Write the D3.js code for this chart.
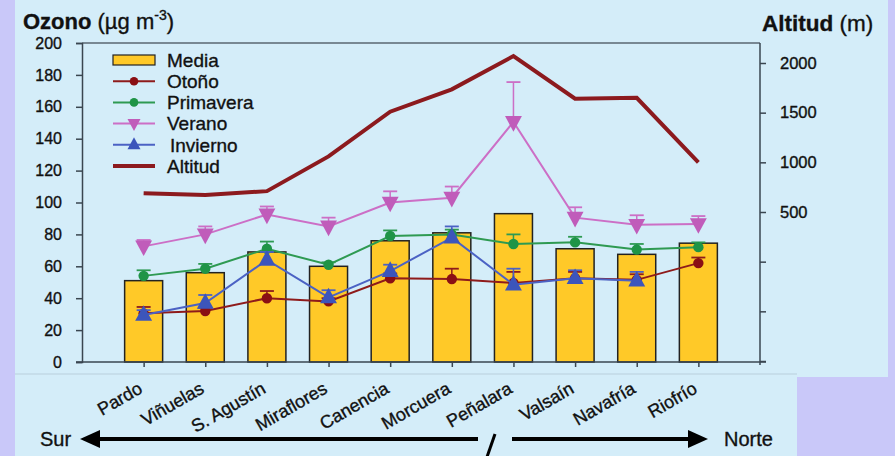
<!DOCTYPE html>
<html><head><meta charset="utf-8">
<script src="https://cdn.jsdelivr.net/npm/d3@7"></script>
<style>
html,body{margin:0;padding:0;background:#c9c8f9;}
svg{display:block;font-family:"Liberation Sans",Arial,sans-serif;}
text{stroke:#111;stroke-width:0.35px;}
</style></head>
<body>
<svg id="c" width="895" height="456"></svg>
<script>
const categories = ["Pardo","Viñuelas","S. Agustín","Miraflores","Canencia","Morcuera","Peñalara","Valsaín","Navafría","Riofrío"];
const media      = [51, 56, 69, 60, 76, 81, 93, 71, 67.5, 74.5];
const otono      = [30.5, 32, 40, 38, 52.5, 52, 49.5, 52.5, 51.5, 62];
const otonoErr   = [4, 2, 4.5, 2, 3, 6.5, 7, 4, 3.5, 3.5];
const primavera  = [54, 58.5, 71, 61, 79, 80, 74, 75, 70.5, 72];
const primaveraErr = [3.5, 3, 4.5, 1.5, 3.5, 3, 6, 3.5, 3.5, 3];
const verano     = [72.5, 80, 92.5, 85, 100, 103, 150.5, 90.5, 86, 86.5];
const veranoErr  = [4, 5, 5, 5.5, 7, 7, 25, 6.5, 6, 5];
const invierno   = [29.5, 37, 64, 40.5, 57, 78, 48.5, 52.5, 51, null];
const inviernoErr= [3, 5, 5, 4.5, 4, 7, 10, 5, 5.5, null];
const altitud    = [690, 670, 710, 1060, 1510, 1735, 2070, 1640, 1650, 1000];
const leftTicks  = [0,20,40,60,80,100,120,140,160,180,200];
const rightTicks = [-1000,-500,0,500,1000,1500,2000];
const rightLabels = [500,1000,1500,2000];

const svg = d3.select("#c");
const L = 82, R = 760, T = 43, B = 362;

// panels
svg.append("rect").attr("x",15).attr("y",0).attr("width",873).attr("height",377).attr("fill","#d4edf9");
svg.append("rect").attr("x",15).attr("y",374).attr("width",782).attr("height",82).attr("fill","#d4edf9");
svg.append("line").attr("x1",15).attr("x2",797).attr("y1",374).attr("y2",374).attr("stroke","#b9cfdc").attr("stroke-width",1);

const x = d3.scaleLinear().domain([0, categories.length + 1]).range([L, R]);
const yL = d3.scaleLinear().domain([0,200]).range([B, T]);
const yR = d3.scaleLinear().domain([-1000,2000]).range([361, 63]);
const xi = i => x(i + 1);

// frame top
svg.append("line").attr("x1",L).attr("x2",R).attr("y1",T).attr("y2",T).attr("stroke","#5a6670").attr("stroke-width",1.5);

// bars
const bw = 38;
svg.append("g").selectAll("rect").data(media).join("rect")
  .attr("x",(d,i)=>xi(i)-bw/2).attr("width",bw)
  .attr("y",d=>yL(d)).attr("height",d=>yL(0)-yL(d))
  .attr("fill","#ffc928").attr("stroke","#222").attr("stroke-width",1.5);

// axes
const axL = svg.append("g").attr("transform",`translate(${L},0)`)
  .call(d3.axisLeft(yL).tickValues(leftTicks).tickSize(6).tickPadding(14).tickFormat(d3.format("d")));
axL.selectAll("text").attr("font-size",16).attr("fill","#111").attr("font-family","Liberation Sans, Arial");
axL.select(".domain").attr("stroke","#3a4650").attr("stroke-width",1.5);
axL.selectAll(".tick line").attr("stroke","#3a4650").attr("stroke-width",1.5);

const axR = svg.append("g").attr("transform",`translate(${R},0)`)
  .call(d3.axisRight(yR).tickValues(rightTicks).tickSize(6).tickPadding(14)
    .tickFormat(d=> rightLabels.includes(d) ? String(d) : ""));
axR.select(".domain").attr("d",`M0,${T}V365`).attr("stroke","#3a4650").attr("stroke-width",1.5);
axR.selectAll(".tick line").attr("stroke","#3a4650").attr("stroke-width",1.5);
axR.selectAll("text").attr("font-size",16.5).attr("fill","#111").attr("font-family","Liberation Sans, Arial");

const axB = svg.append("g").attr("transform",`translate(0,${B})`)
  .call(d3.axisBottom(x).tickValues(categories.map((c,i)=>i+1)).tickSize(5).tickFormat(""));
axB.select(".domain").attr("d",`M${L-6},0H${R+6}`).attr("stroke","#3a4650").attr("stroke-width",1.5);
axB.selectAll(".tick line").attr("stroke","#3a4650").attr("stroke-width",1.5);

// category labels
svg.append("g").selectAll("text").data(categories).join("text")
  .attr("transform",(d,i)=>`translate(${xi(i)},${B+30}) rotate(-30)`)
  .attr("text-anchor","end").attr("font-size",18).attr("fill","#111").text(d=>d);

// series
const series = [
  {name:"Otoño", vals:otono, err:otonoErr, color:"#8e1b1b", mcolor:"#8a0f14", marker:"circle"},
  {name:"Primavera", vals:primavera, err:primaveraErr, color:"#2e9a52", mcolor:"#1f9447", marker:"circle"},
  {name:"Verano", vals:verano, err:veranoErr, color:"#cc6fc6", mcolor:"#c05cba", marker:"down"},
  {name:"Invierno", vals:invierno, err:inviernoErr, color:"#4b62c4", mcolor:"#3c55bb", marker:"up"}
];
function markerPath(type, s){
  if(type==="up") return `M0,${-s*0.75}L${s*0.65},${s*0.45}L${-s*0.65},${s*0.45}Z`;
  if(type==="down") return `M0,${s*0.75}L${s*0.65},${-s*0.45}L${-s*0.65},${-s*0.45}Z`;
  return null;
}

// altitude line
const altLine = d3.line().x((d,i)=>xi(i)).y(d=>yR(d));
svg.append("path").datum(altitud).attr("d",altLine).attr("fill","none")
  .attr("stroke","#8c1a1e").attr("stroke-width",4).attr("stroke-linejoin","miter");

series.forEach(s=>{
  const g = svg.append("g");
  const pts = s.vals.map((v,i)=>({v,i,e:s.err[i]})).filter(p=>p.v!=null);
  pts.forEach(p=>{
    g.append("line").attr("x1",xi(p.i)).attr("x2",xi(p.i)).attr("y1",yL(p.v)).attr("y2",yL(p.v+p.e))
      .attr("stroke",s.color).attr("stroke-width",1.5);
    g.append("line").attr("x1",xi(p.i)-7).attr("x2",xi(p.i)+7).attr("y1",yL(p.v+p.e)).attr("y2",yL(p.v+p.e))
      .attr("stroke",s.color).attr("stroke-width",1.8);
  });
  const line = d3.line().defined(d=>d!=null).x((d,i)=>xi(i)).y(d=>yL(d));
  g.append("path").datum(s.vals).attr("d",line).attr("fill","none").attr("stroke",s.color).attr("stroke-width",2);
  pts.forEach(p=>{
    if(s.marker==="circle"){
      g.append("circle").attr("cx",xi(p.i)).attr("cy",yL(p.v)).attr("r",5.2).attr("fill",s.mcolor);
    } else {
      g.append("path").attr("transform",`translate(${xi(p.i)},${yL(p.v)})`).attr("d",markerPath(s.marker,13)).attr("fill",s.mcolor);
    }
  });
});

// legend
const lg = svg.append("g");
const lx1 = 113, lx2 = 155, ltx = 167;
const legRows = [
  {name:"Media", type:"bar"},
  {name:"Otoño", s:series[0]},
  {name:"Primavera", s:series[1]},
  {name:"Verano", s:series[2]},
  {name:"Invierno", s:series[3], dx:3},
  {name:"Altitud", type:"alt"}
];
const ly = d3.scaleLinear().domain([0,5]).range([60,166]);
legRows.forEach((r,k)=>{
  const yy = ly(k);
  if(r.type==="bar"){
    lg.append("rect").attr("x",lx1).attr("y",yy-5).attr("width",lx2-lx1).attr("height",10)
      .attr("fill","#ffc928").attr("stroke","#222").attr("stroke-width",1.2);
  } else if(r.type==="alt"){
    lg.append("line").attr("x1",lx1).attr("x2",lx2).attr("y1",yy).attr("y2",yy).attr("stroke","#8c1a1e").attr("stroke-width",4);
  } else {
    lg.append("line").attr("x1",lx1).attr("x2",lx2).attr("y1",yy).attr("y2",yy).attr("stroke",r.s.color).attr("stroke-width",2);
    const cx = (lx1+lx2)/2;
    if(r.s.marker==="circle") lg.append("circle").attr("cx",cx).attr("cy",yy).attr("r",4.3).attr("fill",r.s.mcolor);
    else lg.append("path").attr("transform",`translate(${cx},${yy})`).attr("d",markerPath(r.s.marker,10)).attr("fill",r.s.mcolor);
  }
  lg.append("text").attr("x",ltx+(r.dx||0)).attr("y",yy).attr("dy","0.36em").attr("font-size",19).attr("fill","#111").text(r.name);
});

// titles
const t1 = svg.append("text").attr("x",23).attr("y",29).attr("font-size",22).attr("fill","#111");
t1.append("tspan").attr("font-weight","bold").text("Ozono ");
t1.append("tspan").text("(µg m");
t1.append("tspan").attr("font-size",14).attr("dy",-9).text("-3");
t1.append("tspan").attr("dy",9).text(")");
const t2 = svg.append("text").attr("x",762).attr("y",31).attr("font-size",22.5).attr("fill","#111");
t2.append("tspan").attr("font-weight","bold").text("Altitud ");
t2.append("tspan").text("(m)");

// Sur / Norte arrow
const ag = svg.append("g");
ag.append("text").attr("x",40).attr("y",446).attr("font-size",20).attr("fill","#111").text("Sur");
ag.append("text").attr("x",724).attr("y",446).attr("font-size",20).attr("fill","#111").text("Norte");
ag.append("line").attr("x1",96).attr("x2",478).attr("y1",439).attr("y2",439).attr("stroke","#000").attr("stroke-width",4);
ag.append("path").attr("d","M80,439L100,430L100,448Z").attr("fill","#000");
ag.append("line").attr("x1",512).attr("x2",692).attr("y1",439).attr("y2",439).attr("stroke","#000").attr("stroke-width",4);
ag.append("path").attr("d","M708,439L688,430L688,448Z").attr("fill","#000");
ag.append("line").attr("x1",495).attr("y1",434).attr("x2",487).attr("y2",457).attr("stroke","#000").attr("stroke-width",3);
</script>
</body></html>
